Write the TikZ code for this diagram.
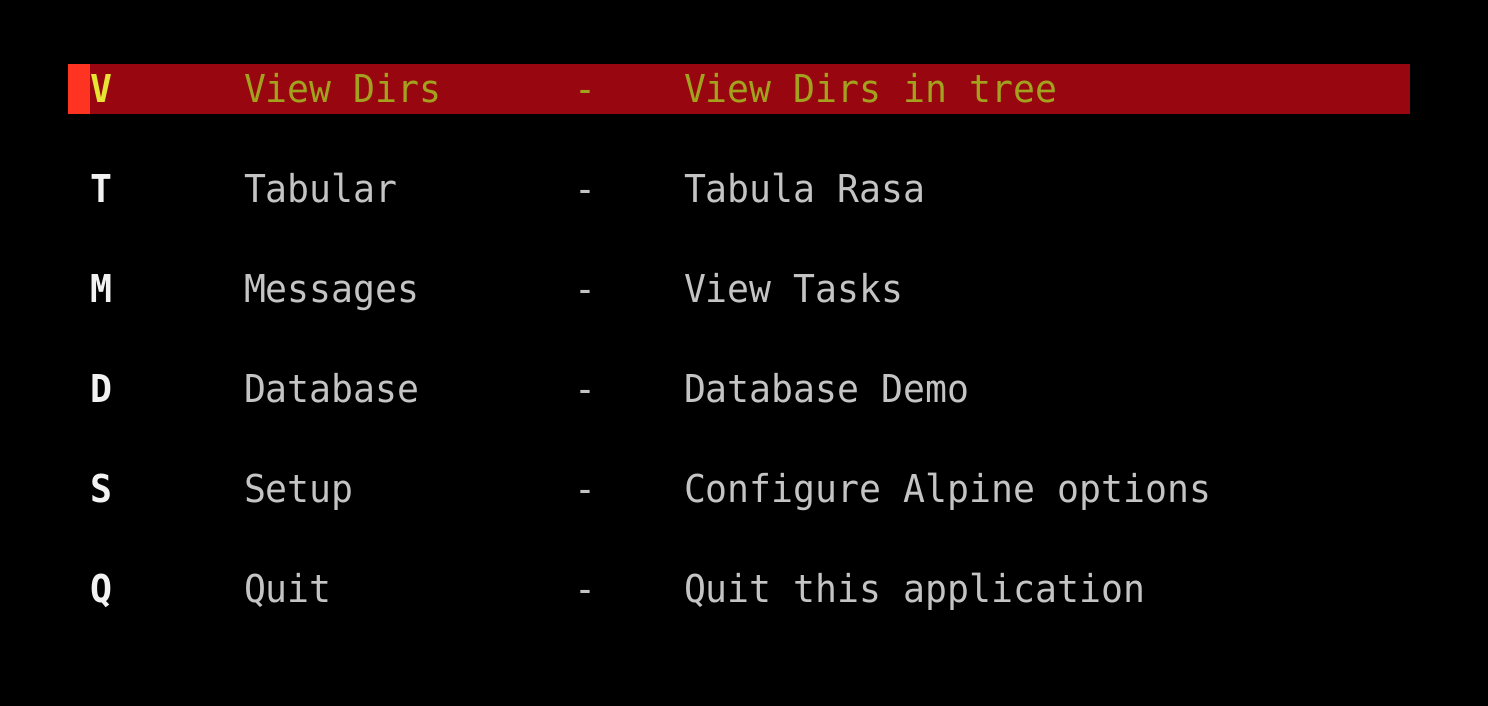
\documentclass[tikz,border=0pt]{standalone}
\usepackage{fontspec}
\setmonofont[FakeStretch=0.95]{DejaVu Sans Mono}
\definecolor{barred}{HTML}{980610}
\definecolor{cursorred}{HTML}{FF3322}
\definecolor{hikey}{HTML}{E8E434}
\definecolor{hitext}{HTML}{A3A21E}
\definecolor{keywhite}{HTML}{F2F2F2}
\definecolor{textgrey}{HTML}{C4C4C4}
\tikzset{
  termtext/.style={anchor=base west, inner sep=0pt, outer sep=0pt,
    font=\ttfamily\fontsize{38.4}{42}\selectfont},
  keytext/.style={termtext, font=\ttfamily\bfseries\fontsize{38.4}{42}\selectfont, text=keywhite},
  itemtext/.style={termtext, text=textgrey},
}
\begin{document}
\begin{tikzpicture}[x=1pt,y=-1pt]
\fill[black] (0,0) rectangle (1488,706);
\useasboundingbox (0,0) rectangle (1488,706);
% highlight bar and cursor
\fill[barred] (68,64) rectangle (1410,114);
\fill[cursorred] (68,64) rectangle (90,114);
% highlighted row
\node[keytext, text=hikey] (kV) at (90,102.5) {V};
\node[itemtext, text=hitext] (nV) at (244,102.5) {View Dirs};
\node[itemtext, text=hitext] (sV) at (574,102.5) {-};
\node[itemtext, text=hitext] (dV) at (684,102.5) {View Dirs in tree};
% other rows
\node[keytext] (kT) at (90,202.5) {T};
\node[itemtext] (nT) at (244,202.5) {Tabular};
\node[itemtext] (sT) at (574,202.5) {-};
\node[itemtext] (dT) at (684,202.5) {Tabula Rasa};
\node[keytext] (kM) at (90,302.5) {M};
\node[itemtext] (nM) at (244,302.5) {Messages};
\node[itemtext] (sM) at (574,302.5) {-};
\node[itemtext] (dM) at (684,302.5) {View Tasks};
\node[keytext] (kD) at (90,402.5) {D};
\node[itemtext] (nD) at (244,402.5) {Database};
\node[itemtext] (sD) at (574,402.5) {-};
\node[itemtext] (dD) at (684,402.5) {Database Demo};
\node[keytext] (kS) at (90,502.5) {S};
\node[itemtext] (nS) at (244,502.5) {Setup};
\node[itemtext] (sS) at (574,502.5) {-};
\node[itemtext] (dS) at (684,502.5) {Configure Alpine options};
\node[keytext] (kQ) at (90,602.5) {Q};
\node[itemtext] (nQ) at (244,602.5) {Quit};
\node[itemtext] (sQ) at (574,602.5) {-};
\node[itemtext] (dQ) at (684,602.5) {Quit this application};
\end{tikzpicture}
\end{document}
